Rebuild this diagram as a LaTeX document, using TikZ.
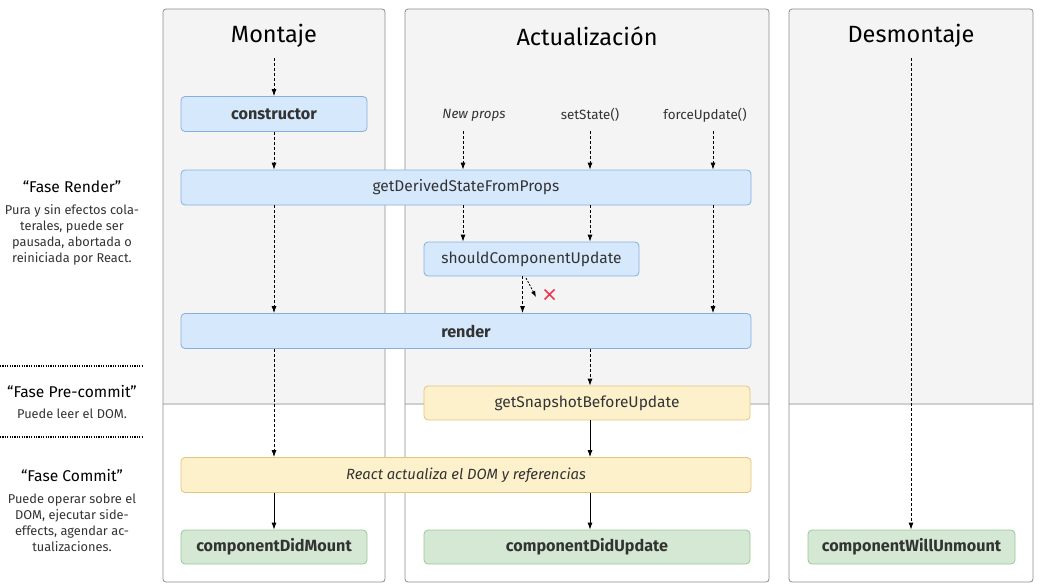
\documentclass[tikz,border=0pt]{standalone}
\usepackage{fontspec}
\setmainfont{Fira Sans}
\usetikzlibrary{arrows.meta,calc}
\definecolor{panelbg}{HTML}{F4F4F4}
\definecolor{panelline}{HTML}{8C8C8C}
\definecolor{sepline}{HTML}{CFCFCF}
\definecolor{bluefill}{HTML}{D6E8FC}
\definecolor{blueline}{HTML}{86AEDF}
\definecolor{yellowfill}{HTML}{FDF1CC}
\definecolor{yellowline}{HTML}{E3C57A}
\definecolor{greenfill}{HTML}{D5E8D4}
\definecolor{greenline}{HTML}{9AC898}
\definecolor{crossred}{HTML}{F0364F}
\definecolor{textgray}{HTML}{333333}
\newcommand{\bx}[1]{{\fontsize{16.2}{18}\selectfont\bfseries #1}}
\begin{document}
\begin{tikzpicture}[x=1pt,y=-1pt,
  box/.style={rectangle,rounded corners=4pt,line width=0.8pt,inner sep=0pt,
    minimum height=35pt,font=\fontsize{15.5}{18}\selectfont,text=textgray},
  bluebox/.style={box,fill=bluefill,draw=blueline},
  yellowbox/.style={box,fill=yellowfill,draw=yellowline},
  greenbox/.style={box,fill=greenfill,draw=greenline},
  title/.style={font=\fontsize{23.5}{27}\selectfont,text=black},
  trig/.style={font=\fontsize{13.4}{15}\selectfont,text=textgray},
  dasharr/.style={line width=0.8pt,dash pattern=on 3pt off 2pt,-{Latex[length=7pt,width=5pt]}},
  solarr/.style={line width=0.8pt,-{Latex[length=7pt,width=5pt]}},
  phase/.style={font=\fontsize{15.6}{18}\selectfont,text=black},
  desc/.style={font=\fontsize{12.8}{16}\selectfont,text=textgray,align=center},
  dotline/.style={line width=1.2pt,dash pattern=on 1.2pt off 1.2pt,black}
]
\useasboundingbox (0,0) rectangle (1040,586);
% panels
\foreach \xa/\xb in {163/385,405/769,789/1033}{
  \fill[panelbg,rounded corners=3pt] (\xa,404) -- (\xa,9) -- (\xb,9) -- (\xb,404) -- cycle;
  \draw[sepline,line width=1.6pt] (\xa,404) -- (\xb,404);
  \draw[panelline,line width=0.8pt,rounded corners=3pt] (\xa,9) rectangle (\xb,582);
}
% titles
\node[title] (tm) at (274,36) {Montaje};
\node[title] (ta) at (587,36) {Actualización};
\node[title] (td) at (911,36) {Desmontaje};
% boxes
\node[bluebox,minimum width=186pt] (ctor) at (274,114) {\bx{constructor}};
\node[bluebox,minimum width=570pt] (gdsfp) at (466,187.5) {getDerivedStateFromProps};
\node[bluebox,minimum width=215pt,minimum height=34pt] (scu) at (531.5,259) {shouldComponentUpdate};
\node[bluebox,minimum width=570pt] (render) at (466,331) {\bx{render}};
\node[yellowbox,minimum width=326pt,minimum height=34pt] (gsbu) at (587,403) {getSnapshotBeforeUpdate};
\node[yellowbox,minimum width=570pt,font=\fontsize{14.8}{17}\selectfont\itshape] (react) at (466,475) {React actualiza el DOM y referencias};
\node[greenbox,minimum width=186pt,minimum height=34pt] (cdm) at (274,547) {\bx{componentDidMount}};
\node[greenbox,minimum width=326pt,minimum height=34pt] (cdu) at (587,547) {\bx{componentDidUpdate}};
\node[greenbox,minimum width=207pt,minimum height=34pt] (cwu) at (911.5,547) {\bx{componentWillUnmount}};
% triggers
\node[trig] (np) at (474,115) {\itshape New props};
\node[trig] (ss) at (590,115) {setState()};
\node[trig] (fu) at (705,115) {forceUpdate()};
% start coordinates
\coordinate (ms) at (274,58);
\coordinate (ds) at (911,58);
\coordinate (npb) at (463,131);
\coordinate (ssb) at (590,131);
\coordinate (fub) at (713,131);
% Montaje arrows
\draw[dasharr] (ms) -- (ctor.north);
\draw[dasharr] (ctor.south) -- (ctor.south |- gdsfp.north);
\draw[dasharr] (ctor.south |- gdsfp.south) -- (ctor.south |- render.north);
\draw[dasharr] (ctor.south |- render.south) -- (ctor.south |- react.north);
\draw[solarr] (ctor.south |- react.south) -- (cdm.north);
% Actualizacion arrows
\draw[dasharr] (npb) -- (npb |- gdsfp.north);
\draw[dasharr] (ssb) -- (ssb |- gdsfp.north);
\draw[dasharr] (fub) -- (fub |- gdsfp.north);
\draw[dasharr] (npb |- gdsfp.south) -- (npb |- scu.north);
\draw[dasharr] (ssb |- gdsfp.south) -- (ssb |- scu.north);
\draw[dasharr] (fub |- gdsfp.south) -- (fub |- render.north);
\coordinate (scux) at (522.5,276);
\draw[dasharr] (scux) -- (scux |- render.north);
\coordinate (sla) at (526,278);
\coordinate (slb) at (536,297);
\draw[line width=0.8pt,dash pattern=on 2pt off 1.5pt,-{Latex[length=6pt,width=4.5pt]}] (sla) -- (slb);
\draw[crossred,line width=1.5pt] (544.5,289.5) -- (554.5,299.5) (544.5,299.5) -- (554.5,289.5);
\draw[dasharr] (ssb |- render.south) -- (ssb |- gsbu.north);
\draw[solarr] (ssb |- gsbu.south) -- (ssb |- react.north);
\draw[solarr] (ssb |- react.south) -- (ssb |- cdu.north);
% Desmontaje
\draw[dasharr] (ds) -- (ds |- cwu.north);
% left phases
\node[phase] (pr) at (72,187) {“Fase Render”};
\node[desc] (prd) at (72,235) {Pura y sin efectos cola-\\terales, puede ser\\pausada, abortada o\\reiniciada por React.};
\coordinate (d1a) at (0,366);
\coordinate (d1b) at (143,366);
\draw[dotline] (d1a) -- (d1b);
\node[phase] (ppc) at (72,392) {“Fase Pre-commit”};
\node[desc] (ppcd) at (72,414) {Puede leer el DOM.};
\coordinate (d2a) at (0,437);
\coordinate (d2b) at (143,437);
\draw[dotline] (d2a) -- (d2b);
\node[phase] (pc) at (72,476) {“Fase Commit”};
\node[desc] (pcd) at (72,522.5) {Puede operar sobre el\\DOM, ejecutar side-\\effects, agendar ac-\\tualizaciones.};
\end{tikzpicture}
\end{document}
